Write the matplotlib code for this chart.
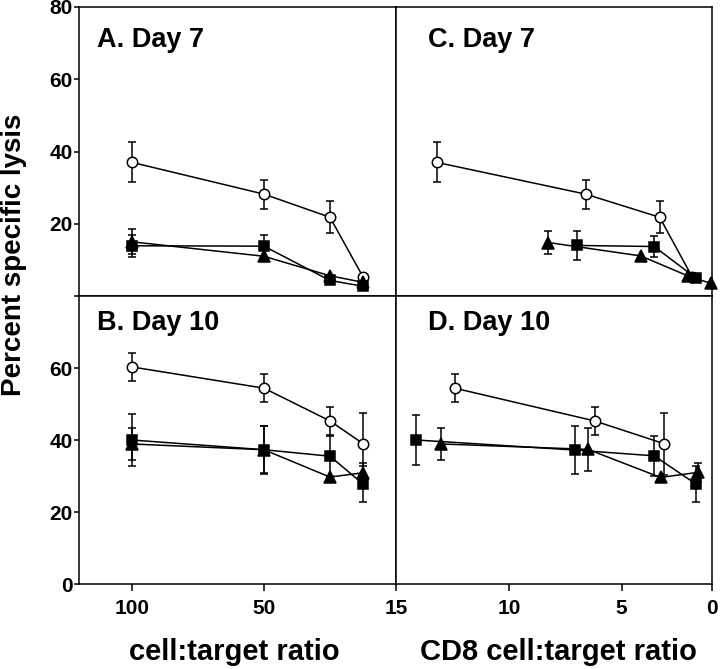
import matplotlib.pyplot as plt
import numpy as np

plt.rcParams['font.family'] = ['Liberation Sans', 'DejaVu Sans']
plt.rcParams['font.weight'] = 'bold'

# total cell:target ratios (left panels)
ratio = [100, 50, 25, 12.5]

# A. Day 7  (open circle / square / triangle)
a_open = [37, 28.2, 21.8, 5.3];   a_open_err = [5.5, 4, 4.4, 0]
a_sq = [13.9, 13.8, 4.3, 2.7];    a_sq_err = [3, 3, 0, 0]
a_tri = [15, 11, 5.6, 3.8];       a_tri_err = [3.5, 0, 0, 0]

# B. Day 10
b_open = [60.3, 54.4, 45.3, 39];  b_open_err = [4, 3.8, 4, 8.6]
b_sq = [40, 37.3, 35.5, 27.8];    b_sq_err = [7.2, 6.7, 5.5, 5]
b_tri = [38.9, 37.3, 29.7, 30.9]; b_tri_err = [4.5, 6.5, 0, 2.7]

# C. Day 7 vs CD8 cell:target ratio
c_open_x = [13.2, 6.6, 2.9, 1.1]
c_sq_x = [7.0, 3.2, 0.9]
c_sq = [14, 13.7, 5.0];            c_sq_err = [4, 3, 0]
c_tri_x = [8.25, 3.95, 1.35, 0.07]
c_tri = [14.8, 11.1, 5.6, 3.5];    c_tri_err = [3.3, 0, 0, 0]

# D. Day 10 vs CD8 cell:target ratio
d_open_x = [12.4, 6.2, 2.67]
d_open = [54.4, 45.3, 39];         d_open_err = [3.8, 4, 8.6]
d_sq_x = [14.1, 7.05, 3.2, 0.9]
d_sq = [40, 37.2, 35.6, 27.8];     d_sq_err = [7, 6.7, 5.6, 5]
d_tri_x = [13.0, 6.5, 2.85, 0.8]
d_tri = [38.9, 37.4, 29.6, 31.0];  d_tri_err = [4.5, 6, 0, 2.7]


def series(ax, x, y, err, marker, face, ms=7.5):
    x = np.asarray(x, float); y = np.asarray(y, float); err = np.asarray(err, float)
    m = err > 0
    if m.any():
        ax.errorbar(x[m], y[m], yerr=err[m], fmt='none', ecolor='k',
                    elinewidth=1.1, capsize=3, capthick=1.1, zorder=2)
    ax.plot(x, y, color='k', lw=1.1, marker=marker, ms=ms, mfc=face,
            mec='k', mew=1.1, zorder=3, clip_on=False)


# right axis: 5..0 segment drawn a bit compressed, as in the original
k = 0.8
def fwd(v):
    v = np.asarray(v, float)
    return np.where(v >= 5, v, 5 - (5 - v) * k)
def inv(v):
    v = np.asarray(v, float)
    return np.where(v >= 5, v, 5 - (5 - v) / k)


fig = plt.figure(figsize=(7.2, 6.69), dpi=100)
L, M, R = 79/720, 396/720, 712/720
T, Y, B = 1 - 7/669, 1 - 296/669, 1 - 584/669
axA = fig.add_axes([L, Y, M - L, T - Y])
axB = fig.add_axes([L, B, M - L, Y - B])
axC = fig.add_axes([M, Y, R - M, T - Y])
axD = fig.add_axes([M, B, R - M, Y - B])

series(axA, ratio, a_open, a_open_err, 'o', 'white')
series(axA, ratio, a_tri, a_tri_err, '^', 'k', 8)
series(axA, ratio, a_sq, a_sq_err, 's', 'k')

series(axB, ratio, b_open, b_open_err, 'o', 'white')
series(axB, ratio, b_tri, b_tri_err, '^', 'k', 8)
series(axB, ratio, b_sq, b_sq_err, 's', 'k')

for ax in (axC, axD):
    ax.set_xscale('function', functions=(fwd, inv))

series(axC, c_open_x, a_open, a_open_err, 'o', 'white')
series(axC, c_tri_x, c_tri, c_tri_err, '^', 'k', 8)
series(axC, c_sq_x, c_sq, c_sq_err, 's', 'k')

series(axD, d_open_x, d_open, d_open_err, 'o', 'white')
series(axD, d_tri_x, d_tri, d_tri_err, '^', 'k', 8)
series(axD, d_sq_x, d_sq, d_sq_err, 's', 'k')

for ax in (axA, axB, axC, axD):
    ax.set_ylim(0, 80)
    for s in ax.spines.values():
        s.set_linewidth(1.1)
    ax.tick_params(direction='out', width=1.1, labelsize=15, pad=1)

for ax in (axA, axB):
    ax.set_xlim(120, 0)
for ax in (axC, axD):
    ax.set_xlim(15, 0)

axA.set_yticks([0, 20, 40, 60, 80], ['', '20', '40', '60', '80'])
axB.set_yticks([0, 20, 40, 60])
for ax in (axA, axB):
    ax.tick_params(axis='y', length=3.6)
for ax in (axC, axD):
    ax.set_yticks([])
for ax in (axA, axC):
    ax.set_xticks([])

axB.set_xticks([100, 50])
axD.set_xticks([15, 10, 5, 0])
for ax in (axB, axD):
    ax.tick_params(axis='x', length=5, pad=6)

titles = [(axA, 'A. Day 7', 0.057, 0.863), (axB, 'B. Day 10', 0.056, 0.882),
          (axC, 'C. Day 7', 0.101, 0.863), (axD, 'D. Day 10', 0.101, 0.882)]
for ax, t, tx, ty in titles:
    ax.text(tx, ty, t, transform=ax.transAxes, fontsize=19.5, fontweight='bold',
            va='baseline', ha='left')

fig.text(14/720, 1 - 255/669, 'Percent specific lysis', rotation=90,
         fontsize=20, fontweight='bold', ha='center', va='center')
fig.text(234/720, 1 - 660/669, 'cell:target ratio', fontsize=21,
         fontweight='bold', ha='center', va='baseline')
fig.text(558/720, 1 - 660/669, 'CD8 cell:target ratio', fontsize=21,
         fontweight='bold', ha='center', va='baseline')

fig.savefig('out.png', dpi=100)
